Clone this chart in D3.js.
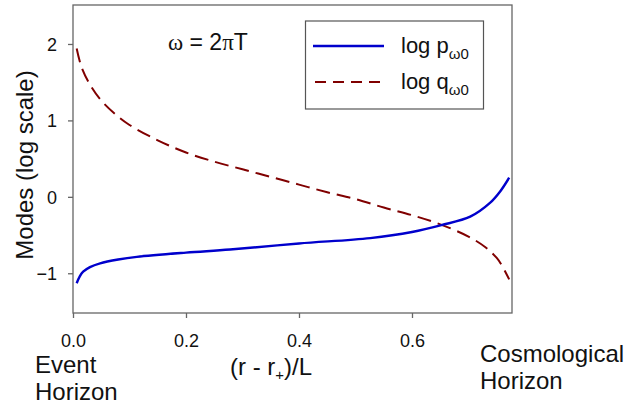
<!DOCTYPE html>
<html><head><meta charset="utf-8">
<script src="https://cdn.jsdelivr.net/npm/d3@7"></script>
<style>body{margin:0;background:#fff}svg{display:block}text{font-family:"Liberation Sans",Arial,sans-serif;fill:#111}</style>
</head><body><svg id="c" width="640" height="406"></svg>
<script>
const xTicks = [0, 0.2, 0.4, 0.6];
const yTicks = [-1, 0, 1, 2];
const pX = [0.0065,0.012,0.018,0.03,0.048,0.08,0.113,0.2,0.278,0.4,0.526,0.6,0.652,0.703,0.738,0.756,0.772];
const pY = [-1.13,-1.04,-0.98,-0.92,-0.87,-0.82,-0.785,-0.73,-0.69,-0.61,-0.54,-0.46,-0.37,-0.26,-0.08,0.07,0.25];
const qX = [0.0065,0.015,0.03,0.05,0.075,0.1,0.15,0.2,0.25,0.3,0.35,0.4,0.45,0.5,0.55,0.6,0.65,0.7,0.73,0.75,0.76,0.772];
const qY = [1.94,1.70,1.47,1.26,1.08,0.94,0.74,0.58,0.46,0.36,0.26,0.16,0.06,-0.03,-0.14,-0.24,-0.36,-0.52,-0.66,-0.80,-0.91,-1.08];

const svg = d3.select("#c");
const L = 73, R = 512, T = 5, B = 313;
const x = d3.scaleLinear().domain([0, 0.777]).range([L, R]);
const y = d3.scaleLinear().domain([-1.52, 2.51]).range([B, T]);

svg.append("rect").attr("x", L).attr("y", T).attr("width", R - L).attr("height", B - T)
  .attr("fill", "none").attr("stroke", "#666").attr("stroke-width", 1.3);

const gx = svg.append("g").attr("transform", `translate(0,${B})`)
  .call(d3.axisBottom(x).tickValues(xTicks).tickFormat(d3.format(".1f")).tickSize(5).tickPadding(16));
const gy = svg.append("g").attr("transform", `translate(${L},0)`)
  .call(d3.axisLeft(y).tickValues(yTicks).tickFormat(d3.format("d")).tickSize(5).tickPadding(11));
[gx, gy].forEach(g => {
  g.select(".domain").remove();
  g.selectAll("line").attr("stroke", "#666").attr("stroke-width", 1.3);
  g.selectAll("text").attr("font-size", 18).attr("fill", "#111")
   .attr("font-family", '"Liberation Sans",Arial,sans-serif');
});
gy.selectAll("text").attr("dy", "0.35em");

const line = d3.line().curve(d3.curveCatmullRom.alpha(0.5)).x(d => x(d[0])).y(d => y(d[1]));
svg.append("path").datum(qX.map((v, i) => [v, qY[i]])).attr("d", line)
  .attr("fill", "none").attr("stroke", "#800000").attr("stroke-width", 2).attr("stroke-dasharray", "14,7");
svg.append("path").datum(pX.map((v, i) => [v, pY[i]])).attr("d", line)
  .attr("fill", "none").attr("stroke", "#0000cc").attr("stroke-width", 2.4);

// legend
svg.append("rect").attr("x", 305.5).attr("y", 21).attr("width", 178).attr("height", 88)
  .attr("fill", "#fff").attr("stroke", "#555").attr("stroke-width", 1.2);
svg.append("line").attr("x1", 313).attr("x2", 384).attr("y1", 46).attr("y2", 46)
  .attr("stroke", "#0000cc").attr("stroke-width", 2.4);
svg.append("line").attr("x1", 315).attr("x2", 380).attr("y1", 82).attr("y2", 82)
  .attr("stroke", "#800000").attr("stroke-width", 2).attr("stroke-dasharray", "11,7");
const legT = [["log p", 53], ["log q", 89]];
legT.forEach(([t, yy]) => {
  const tx = svg.append("text").attr("x", 401).attr("y", yy).attr("font-size", 22);
  tx.append("tspan").text(t);
  tx.append("tspan").attr("font-size", 15).attr("dy", 6).text("\u03c90");
});

// title
const tt = svg.append("text").attr("x", 168).attr("y", 50).attr("font-size", 23);
tt.append("tspan").attr("font-family", '"Liberation Serif",serif').text("\u03c9");
tt.append("tspan").text(" = 2");
tt.append("tspan").attr("font-family", '"Liberation Serif",serif').text("\u03c0");
tt.append("tspan").text("T");

// y label
svg.append("text").attr("transform", "translate(33,165) rotate(-90)").attr("text-anchor", "middle")
  .attr("font-size", 24).text("Modes (log scale)");

// x label
const xl = svg.append("text").attr("x", 230).attr("y", 375).attr("font-size", 24);
xl.append("tspan").text("(r - r");
xl.append("tspan").attr("font-size", 15).attr("dy", 5).text("+");
xl.append("tspan").attr("dy", -5).text(")/L");

svg.append("text").attr("x", 35).attr("y", 373).attr("font-size", 24).text("Event");
svg.append("text").attr("x", 35).attr("y", 400).attr("font-size", 24).text("Horizon");
svg.append("text").attr("x", 480).attr("y", 362).attr("font-size", 24).text("Cosmological");
svg.append("text").attr("x", 480).attr("y", 389).attr("font-size", 24).text("Horizon");
</script></body></html>
